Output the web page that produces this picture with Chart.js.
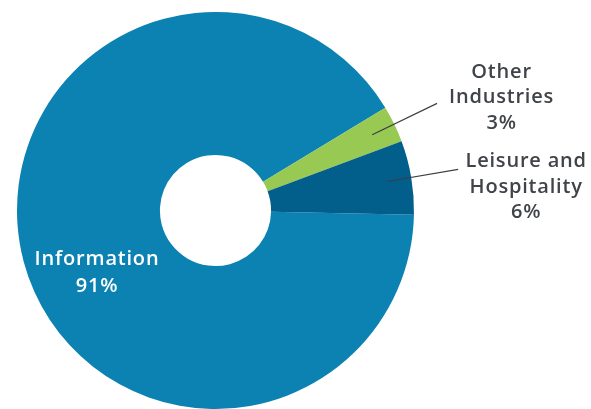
<!DOCTYPE html>
<html>
<head>
<meta charset="utf-8">
<script src="https://cdn.jsdelivr.net/npm/chart.js@4.4.1/dist/chart.umd.min.js"></script>
<style>
  html, body { margin: 0; padding: 0; background: #ffffff; }
  #wrap { width: 591px; height: 409px; position: relative; }
</style>
</head>
<body>
<div id="wrap"><canvas id="c" width="591" height="409"></canvas></div>
<script>
// Data
const categories = ['Information', 'Other Industries', 'Leisure and Hospitality'];
const labelLines = [['Information'], ['Other', 'Industries'], ['Leisure and', 'Hospitality']];
const shares = [91, 3, 6];
const colors = ['#0b82b1', '#97c953', '#025e8b'];

const labelPlugin = {
  id: 'sliceLabels',
  afterDatasetsDraw(chart) {
    const ctx = chart.ctx;
    const meta = chart.getDatasetMeta(0);
    const ds = chart.data.datasets[0];
    ctx.save();
    ctx.font = '600 20px "Open Sans", sans-serif';
    try { ctx.letterSpacing = '0.8px'; } catch (e) {}
    ctx.textAlign = 'center';
    ctx.textBaseline = 'alphabetic';
    const lh = 25.5;
    meta.data.forEach((arc, i) => {
      const p = arc.getProps(['x', 'y', 'startAngle', 'endAngle', 'outerRadius'], true);
      const mid = (p.startAngle + p.endAngle) / 2;
      const lines = labelLines[i].concat([ds.data[i] + '%']);
      if (i === 0) {
        ctx.fillStyle = '#ffffff';
        const bx = p.x - 118.5, by = p.y + 54;
        lines.forEach((t, k) => ctx.fillText(t, bx, by + k * 27));
      } else {
        const r1 = p.outerRadius * 0.877, r2 = r1 + 72;
        const sx = p.x + Math.cos(mid) * r1, sy = p.y + Math.sin(mid) * r1;
        const ex = p.x + Math.cos(mid) * r2, ey = p.y + Math.sin(mid) * r2;
        ctx.strokeStyle = '#3d3f43';
        ctx.lineWidth = 1.2;
        ctx.beginPath();
        ctx.moveTo(sx, sy);
        ctx.lineTo(ex, ey);
        ctx.stroke();
        ctx.fillStyle = '#404348';
        const off = i === 1 ? [64.5, -25.5] : [68, -2];
        lines.forEach((t, k) => ctx.fillText(t, ex + off[0], ey + off[1] + k * lh));
      }
    });
    ctx.restore();
  }
};

new Chart(document.getElementById('c'), {
  type: 'doughnut',
  data: {
    labels: categories,
    datasets: [{
      data: shares,
      backgroundColor: colors,
      borderColor: '#3f9fc9',
      borderWidth: 0
    }]
  },
  options: {
    responsive: false,
    animation: false,
    rotation: 91.2,
    cutout: '28%',
    layout: { padding: { left: 17, right: 177, top: 12, bottom: 0 } },
    plugins: {
      legend: { display: false },
      tooltip: { enabled: false }
    }
  },
  plugins: [labelPlugin]
});
</script>
</body>
</html>
